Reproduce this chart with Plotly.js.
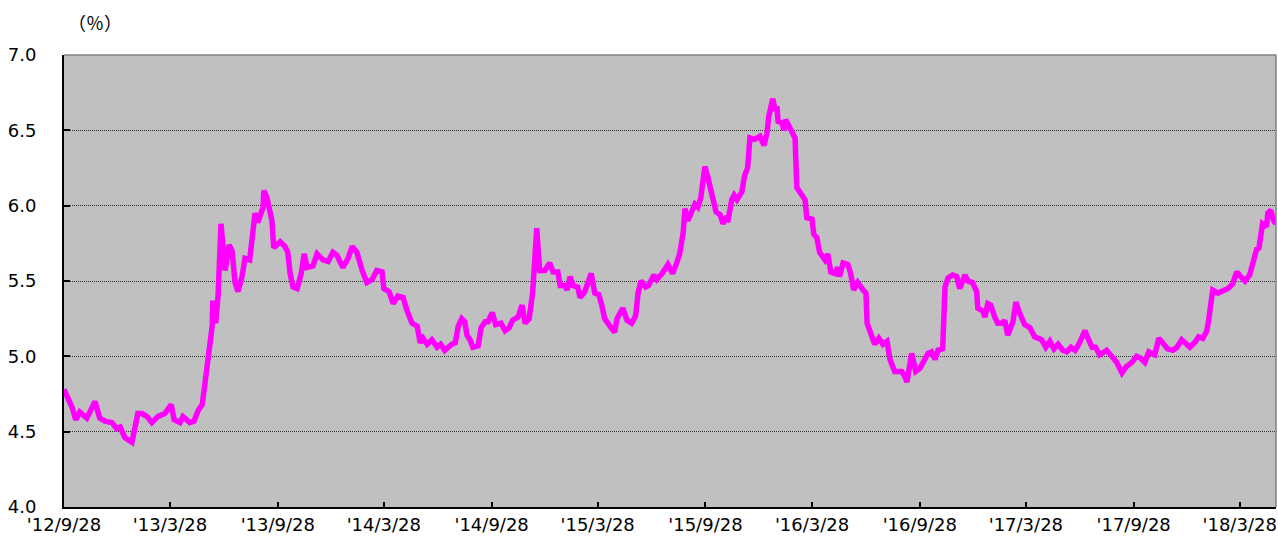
<!DOCTYPE html>
<html>
<head>
<meta charset="utf-8">
<script src="https://cdn.plot.ly/plotly-3.0.1.min.js"></script>
<style>
html,body{margin:0;padding:0;background:#fff;}
#chart{width:1278px;height:539px;}
</style>
</head>
<body>
<div id="chart"></div>
<script>
var dates = [
'2012-09-28','2012-10-05','2012-10-12','2012-10-18','2012-10-25','2012-11-06','2012-11-20','2012-11-28','2012-12-07','2012-12-19','2012-12-27',
'2013-01-02','2013-01-10','2013-01-22','2013-02-01','2013-02-08','2013-02-17','2013-02-25','2013-03-07','2013-03-19','2013-03-30',
'2013-04-04','2013-04-14','2013-04-19','2013-05-01','2013-05-08','2013-05-15','2013-05-22','2013-05-27','2013-06-01','2013-06-04',
'2013-06-08','2013-06-09','2013-06-14','2013-06-18','2013-06-23','2013-06-30','2013-07-07','2013-07-12','2013-07-17','2013-07-22',
'2013-07-29','2013-08-03','2013-08-11','2013-08-20','2013-08-25','2013-09-03','2013-09-04','2013-09-09','2013-09-18','2013-09-21',
'2013-10-02','2013-10-10','2013-10-15','2013-10-19','2013-10-24','2013-10-31','2013-11-07','2013-11-12','2013-11-17','2013-11-27',
'2013-12-04','2013-12-14','2013-12-23','2013-12-31',
'2014-01-07','2014-01-17','2014-01-26','2014-02-02','2014-02-10','2014-02-19','2014-02-27','2014-03-08','2014-03-16','2014-03-25',
'2014-03-28','2014-04-06','2014-04-13','2014-04-21','2014-04-30','2014-05-06','2014-05-15','2014-05-24','2014-05-29','2014-06-03',
'2014-06-10','2014-06-18','2014-06-27','2014-07-03','2014-07-10','2014-07-22','2014-07-28','2014-08-02','2014-08-08','2014-08-13',
'2014-08-17','2014-08-22','2014-08-27','2014-09-05','2014-09-10','2014-09-17','2014-09-22','2014-09-29','2014-10-05','2014-10-14',
'2014-10-21','2014-10-28','2014-11-03','2014-11-12','2014-11-19','2014-11-24','2014-12-01','2014-12-07','2014-12-11','2014-12-14',
'2014-12-19','2014-12-28',
'2015-01-05','2015-01-11','2015-01-19','2015-01-23','2015-01-31','2015-02-04','2015-02-09','2015-02-14','2015-02-22','2015-02-26',
'2015-03-06','2015-03-17','2015-03-23','2015-03-30','2015-04-04','2015-04-09','2015-04-18','2015-04-26','2015-04-30','2015-05-10',
'2015-05-17','2015-05-25','2015-06-01','2015-06-05','2015-06-10','2015-06-18','2015-06-23','2015-07-02','2015-07-07','2015-07-16',
'2015-07-26','2015-08-03','2015-08-10','2015-08-15','2015-08-21','2015-08-24','2015-08-29','2015-09-05','2015-09-10','2015-09-15',
'2015-09-20','2015-09-24','2015-09-27','2015-10-02','2015-10-09','2015-10-12','2015-10-16','2015-10-23','2015-10-28','2015-11-04',
'2015-11-05','2015-11-12','2015-11-16','2015-11-21','2015-11-29','2015-12-04','2015-12-09','2015-12-13','2015-12-21','2015-12-30',
'2016-01-06','2016-01-11','2016-01-14','2016-01-21','2016-01-25','2016-01-28','2016-01-30','2016-02-06','2016-02-09','2016-02-12',
'2016-02-16','2016-02-23','2016-02-28','2016-03-02','2016-03-11','2016-03-16','2016-03-19','2016-03-28','2016-03-31','2016-04-05',
'2016-04-10','2016-04-19','2016-04-24','2016-04-29','2016-05-06','2016-05-11','2016-05-14','2016-05-20','2016-05-28','2016-06-02',
'2016-06-07','2016-06-14','2016-06-23','2016-06-28','2016-06-30','2016-07-08','2016-07-13','2016-07-20','2016-07-27','2016-08-03',
'2016-08-08','2016-08-16','2016-08-28','2016-09-02','2016-09-06','2016-09-14','2016-09-21','2016-09-28','2016-10-07','2016-10-12',
'2016-10-18','2016-10-24','2016-10-29','2016-11-06','2016-11-10','2016-11-15','2016-11-23','2016-11-30','2016-12-05','2016-12-10',
'2016-12-14','2016-12-19','2016-12-27',
'2017-01-03','2017-01-05','2017-01-14','2017-01-17','2017-01-22','2017-01-27','2017-02-03','2017-02-08','2017-02-17','2017-02-20',
'2017-02-25','2017-03-06','2017-03-11','2017-03-16','2017-03-26','2017-04-04','2017-04-12','2017-04-24','2017-05-01','2017-05-08',
'2017-05-15','2017-05-22','2017-05-30','2017-06-06','2017-06-13','2017-06-20','2017-06-25','2017-07-02','2017-07-07','2017-07-12',
'2017-07-19','2017-07-25','2017-08-01','2017-08-13','2017-08-22','2017-08-30','2017-09-08','2017-09-15','2017-09-25','2017-10-03',
'2017-10-09','2017-10-17','2017-10-24','2017-11-03','2017-11-10','2017-11-17','2017-11-25','2017-12-04','2017-12-11','2017-12-19',
'2017-12-24',
'2018-01-02','2018-01-10','2018-01-17','2018-01-24','2018-01-31','2018-02-03','2018-02-08','2018-02-10','2018-02-19','2018-02-27',
'2018-03-08','2018-03-16','2018-03-23','2018-04-01','2018-04-06','2018-04-14','2018-04-21','2018-04-26','2018-04-30','2018-05-05',
'2018-05-06','2018-05-13','2018-05-15','2018-05-20','2018-05-25','2018-05-29'
];

var rates = [
4.78,4.72,4.66,4.58,4.63,4.59,4.70,4.59,4.57,4.56,4.52,
4.53,4.46,4.43,4.62,4.62,4.60,4.56,4.60,4.62,4.68,
4.58,4.56,4.60,4.56,4.57,4.64,4.68,4.84,4.98,5.06,
5.20,5.37,5.22,5.40,5.88,5.57,5.74,5.70,5.49,5.43,
5.53,5.65,5.64,5.95,5.89,5.99,6.10,6.06,5.90,5.72,
5.76,5.73,5.69,5.55,5.46,5.45,5.55,5.68,5.59,5.60,
5.68,5.64,5.63,5.69,
5.67,5.59,5.65,5.73,5.69,5.57,5.49,5.51,5.57,5.56,
5.45,5.43,5.35,5.40,5.39,5.31,5.22,5.20,5.09,5.12,
5.08,5.11,5.06,5.08,5.04,5.08,5.09,5.20,5.25,5.23,
5.14,5.11,5.06,5.07,5.19,5.23,5.23,5.29,5.21,5.22,
5.17,5.19,5.24,5.26,5.34,5.22,5.25,5.42,5.64,5.85,
5.57,5.57,
5.62,5.56,5.56,5.47,5.47,5.44,5.53,5.47,5.46,5.39,
5.43,5.55,5.42,5.41,5.34,5.25,5.20,5.16,5.25,5.32,
5.24,5.22,5.27,5.42,5.50,5.46,5.47,5.54,5.51,5.55,
5.61,5.55,5.62,5.68,5.82,5.98,5.90,5.97,6.01,5.99,
6.05,6.17,6.26,6.19,6.06,6.04,5.96,5.94,5.88,5.93,
5.89,6.04,6.07,6.04,6.09,6.20,6.25,6.45,6.44,6.46,
6.40,6.48,6.59,6.71,6.63,6.66,6.56,6.55,6.50,6.57,
6.54,6.47,6.45,6.12,6.07,6.04,5.92,5.91,5.81,5.79,
5.69,5.64,5.68,5.56,5.55,5.59,5.53,5.62,5.61,5.55,
5.44,5.49,5.44,5.42,5.22,5.12,5.08,5.12,5.08,5.10,
4.98,4.90,4.90,4.87,4.83,5.02,4.90,4.92,4.98,5.02,
5.03,4.98,5.04,5.05,5.46,5.52,5.54,5.53,5.45,5.49,
5.54,5.50,5.49,
5.43,5.32,5.30,5.26,5.35,5.34,5.26,5.22,5.22,5.24,
5.14,5.23,5.36,5.30,5.21,5.19,5.13,5.11,5.06,5.10,
5.05,5.08,5.04,5.03,5.06,5.04,5.07,5.13,5.17,5.12,
5.06,5.06,5.01,5.04,5.00,4.96,4.89,4.93,4.96,5.00,
4.99,4.96,5.03,5.01,5.12,5.09,5.05,5.04,5.06,5.11,
5.09,
5.06,5.09,5.13,5.12,5.17,5.24,5.40,5.44,5.42,5.43,
5.45,5.48,5.56,5.52,5.50,5.54,5.65,5.71,5.72,5.83,
5.88,5.86,5.95,5.97,5.90,5.88
];

var xTickVals = ['2012-09-28','2013-03-28','2013-09-28','2014-03-28','2014-09-28','2015-03-28','2015-09-28','2016-03-28','2016-09-28','2017-03-28','2017-09-28','2018-03-28'];
var xTickText = ["'12/9/28","'13/3/28","'13/9/28","'14/3/28","'14/9/28","'15/3/28","'15/9/28","'16/3/28","'16/9/28","'17/3/28","'17/9/28","'18/3/28"];
var yTickVals = [4.0,4.5,5.0,5.5,6.0,6.5,7.0];
var yTickText = ['4.0','4.5','5.0','5.5','6.0','6.5','7.0'];
var unitLabel = '（％）';

var trace = {
  x: dates,
  y: rates,
  type: 'scatter',
  mode: 'lines',
  line: {color: '#FF00FF', width: 5.5},
  hoverinfo: 'x+y'
};

var tickFont = {family: 'DejaVu Sans, Liberation Sans, sans-serif', size: 18, color: '#000'};

var layout = {
  width: 1278,
  height: 539,
  margin: {l: 64, r: 2, t: 55, b: 32, pad: 0},
  paper_bgcolor: '#ffffff',
  plot_bgcolor: '#C0C0C0',
  showlegend: false,
  xaxis: {
    type: 'date',
    range: ['2012-09-28', '2018-05-29'],
    tickmode: 'array',
    tickvals: xTickVals,
    ticktext: xTickText,
    ticks: 'inside',
    ticklen: 5,
    tickwidth: 1.5,
    tickcolor: '#000',
    showgrid: false,
    zeroline: false,
    showline: true,
    linecolor: '#000',
    linewidth: 2,
    tickfont: tickFont,
    fixedrange: true
  },
  yaxis: {
    range: [4, 7],
    tickmode: 'array',
    tickvals: yTickVals,
    ticktext: yTickText,
    ticks: 'inside',
    ticklen: 6,
    tickwidth: 1.5,
    tickcolor: '#000',
    ticklabelstandoff: 22,
    showgrid: true,
    gridcolor: '#333333',
    gridwidth: 1,
    griddash: '1px,1px',
    zeroline: false,
    showline: true,
    linecolor: '#000',
    linewidth: 2,
    tickfont: tickFont,
    fixedrange: true
  },
  shapes: [
    {type: 'line', xref: 'paper', yref: 'paper', x0: 0, x1: 1, y0: 1, y1: 1, line: {color: '#808080', width: 1.5}, layer: 'above'},
    {type: 'line', xref: 'paper', yref: 'paper', x0: 1, x1: 1, y0: 0, y1: 1, line: {color: '#808080', width: 1.5}, layer: 'above'}
  ],
  annotations: [
    {text: unitLabel, xref: 'paper', yref: 'paper', x: 0.0256, y: 1.073, xanchor: 'center', yanchor: 'middle', showarrow: false,
     font: {family: 'Noto Sans CJK JP, sans-serif', size: 18, color: '#000'}}
  ]
};

Plotly.newPlot('chart', [trace], layout, {displayModeBar: false});
</script>
</body>
</html>
